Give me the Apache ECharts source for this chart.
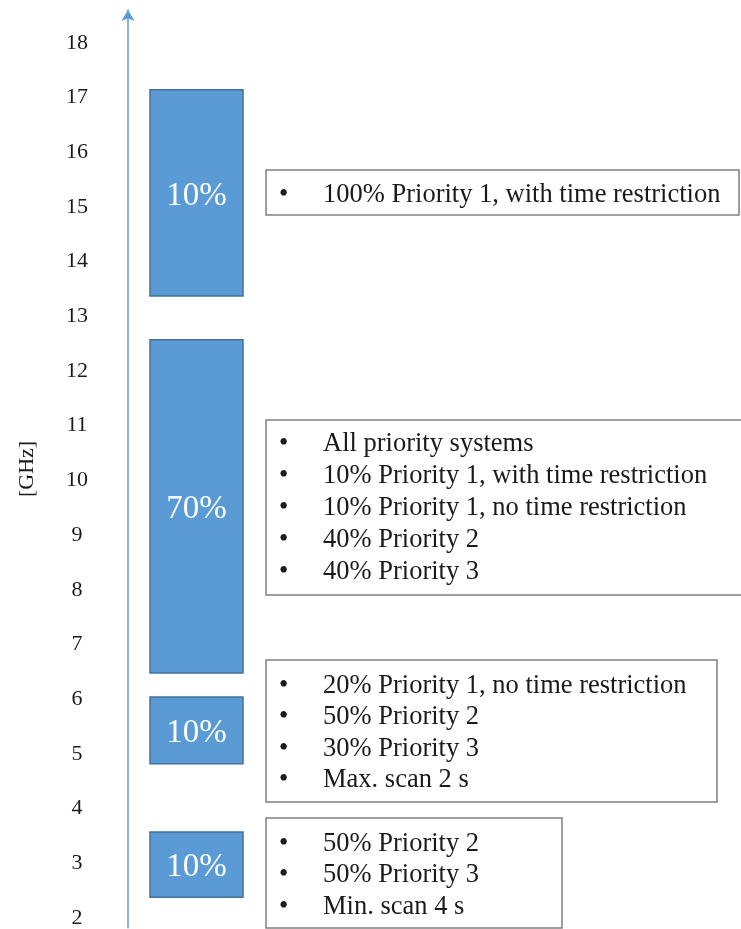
<!DOCTYPE html>
<html>
<head>
<meta charset="utf-8">
<script src="https://cdn.jsdelivr.net/npm/echarts@6/dist/echarts.min.js"></script>
<style>
  html, body { margin: 0; padding: 0; background: #ffffff; }
  #chart { width: 741px; height: 929px; }
</style>
</head>
<body>
<div id="chart"></div>
<script>
// Frequency bands (GHz) and the share of scan time given to each
const bandLow   = [2.38, 4.82, 6.48, 13.37];
const bandHigh  = [3.57, 6.04, 12.57, 17.14];
const bandShare = ['10%', '10%', '70%', '10%'];

// Frequency tick labels along the arrow axis
const freqTicks = [2, 3, 4, 5, 6, 7, 8, 9, 10, 11, 12, 13, 14, 15, 16, 17, 18];

// Notes describing what is scanned in each band (top to bottom)
const noteTop    = ['100% Priority 1, with time restriction'];
const noteUpper  = ['All priority systems', '10% Priority 1, with time restriction',
                    '10% Priority 1, no time restriction', '40% Priority 2', '40% Priority 3'];
const noteLower  = ['20% Priority 1, no time restriction', '50% Priority 2',
                    '30% Priority 3', 'Max. scan 2 s'];
const noteBottom = ['50% Priority 2', '50% Priority 3', 'Min. scan 4 s'];

const SERIF = '"Liberation Serif", "Times New Roman", serif';
const TEXT = '#1a1a1a';

// Box frames for the notes
const noteBoxes = [
  { lines: noteTop,    x: 266, y: 170, w: 473, h: 45,  first: 195, step: 32 },
  { lines: noteUpper,  x: 266, y: 420, w: 490, h: 175, first: 444, step: 32 },
  { lines: noteLower,  x: 266, y: 660, w: 451, h: 142, first: 686, step: 31.3 },
  { lines: noteBottom, x: 266, y: 818, w: 296, h: 110, first: 844, step: 31.5 }
];

const graphics = [];
noteBoxes.forEach(function (b) {
  graphics.push({
    type: 'rect',
    shape: { x: b.x, y: b.y, width: b.w, height: b.h },
    style: { fill: '#ffffff', stroke: '#7f7f7f', lineWidth: 1.5 },
    z: 10
  });
  b.lines.forEach(function (line, i) {
    const cy = b.first + i * b.step;
    graphics.push({
      type: 'text', z: 11,
      style: { text: '\u2022', x: 279, y: cy, font: '26.5px ' + SERIF, fill: TEXT, verticalAlign: 'middle' }
    });
    graphics.push({
      type: 'text', z: 11,
      style: { text: line, x: 323, y: cy, font: '26.5px ' + SERIF, fill: TEXT, verticalAlign: 'middle' }
    });
  });
});

const chart = echarts.init(document.getElementById('chart'), null, { renderer: 'canvas' });

chart.setOption({
  animation: false,
  backgroundColor: '#ffffff',
  grid: { left: 150, width: 93, top: 10, bottom: 1, containLabel: false },
  xAxis: {
    type: 'category',
    data: ['bands'],
    show: false
  },
  yAxis: {
    type: 'value',
    min: 1.82,
    max: 18.6,
    offset: 22,
    name: '[GHz]',
    nameLocation: 'middle',
    nameGap: 90,
    nameRotate: 90,
    nameTextStyle: { fontFamily: SERIF, fontSize: 22, color: TEXT },
    axisLine: {
      show: true,
      symbol: ['none', 'arrow'],
      symbolSize: [10, 11],
      lineStyle: { color: '#5b9bd5', width: 1.5 }
    },
    axisTick: { show: false },
    splitLine: { show: false },
    axisLabel: {
      customValues: freqTicks,
      align: 'center',
      margin: 51,
      fontFamily: SERIF,
      fontSize: 22,
      color: TEXT
    }
  },
  series: [{
    type: 'custom',
    data: bandLow.map(function (lo, i) { return [0, lo, bandHigh[i], bandShare[i]]; }),
    renderItem: function (params, api) {
      const bottom = api.coord([api.value(0), api.value(1)]);
      const top = api.coord([api.value(0), api.value(2)]);
      const w = api.size([1, 0])[0];
      return {
        type: 'rect',
        shape: { x: bottom[0] - w / 2, y: top[1], width: w, height: bottom[1] - top[1] },
        style: { fill: '#5b9bd5', stroke: '#41719c', lineWidth: 1.5 },
        textContent: {
          style: {
            text: bandShare[params.dataIndex],
            fill: '#ffffff',
            font: '33px ' + SERIF
          }
        },
        textConfig: { position: 'inside', offset: [0, 3] }
      };
    }
  }],
  graphic: graphics
});
</script>
</body>
</html>
